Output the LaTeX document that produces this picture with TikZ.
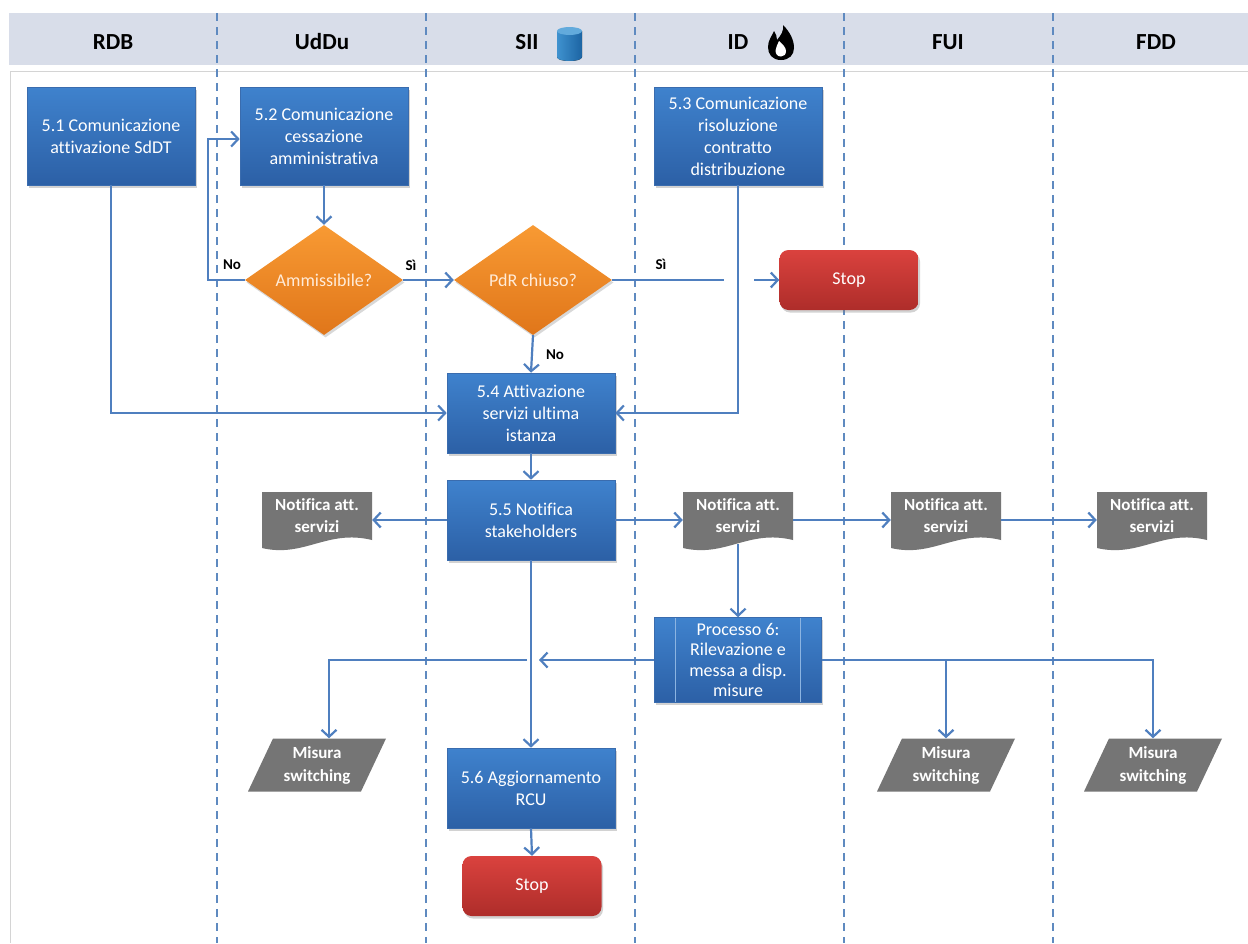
\documentclass[tikz,border=0pt]{standalone}
\usepackage{fontspec}
\setmainfont{Carlito}[Ligatures={NoCommon}]
\usetikzlibrary{arrows.meta,shapes.geometric,shadows,calc}
\definecolor{hdrfill}{HTML}{D8DDE9}
\definecolor{bodyline}{HTML}{D4D4D4}
\definecolor{lanecol}{HTML}{5F8AC0}
\definecolor{linecol}{HTML}{4F7FBF}
\definecolor{blueT}{HTML}{3F82CD}
\definecolor{blueB}{HTML}{2C60A6}
\definecolor{blueE}{HTML}{3A6CAE}
\definecolor{orT}{HTML}{F89A33}
\definecolor{orB}{HTML}{E0761A}
\definecolor{redT}{HTML}{DA423E}
\definecolor{redB}{HTML}{AE2D2A}
\definecolor{docgray}{HTML}{757575}
\definecolor{cylL}{HTML}{3F92CF}
\definecolor{cylR}{HTML}{1C64A3}
\definecolor{cylTop}{HTML}{62AADC}
\definecolor{ortext}{HTML}{FFEBD8}
\begin{document}
\begin{tikzpicture}[x=1pt,y=-1pt,
  lane/.style={lanecol, line width=2.7pt, dash pattern=on 8pt off 6pt},
  hdrtxt/.style={font=\fontsize{23}{26}\selectfont\bfseries, text=black, inner sep=0},
  bluebox/.style={rectangle, top color=blueT, bottom color=blueB, draw=blueE, line width=0.6pt,
     text=white, align=center, font=\fontsize{18}{22}\selectfont, inner sep=2pt,
     minimum width=168pt, drop shadow={shadow xshift=1.5pt, shadow yshift=-2.5pt, opacity=.35}},
  decision/.style={diamond, top color=orT, bottom color=orB, draw=none, text=ortext,
     font=\fontsize{18}{22}\selectfont, inner sep=0pt, aspect=1.45,
     minimum width=158pt, minimum height=110pt,
     drop shadow={shadow xshift=1.5pt, shadow yshift=-2.5pt, opacity=.3}},
  stopbox/.style={rectangle, rounded corners=9pt, top color=redT, bottom color=redB, draw=none,
     text=white, font=\fontsize{18}{22}\selectfont, minimum width=139pt, minimum height=60pt,
     drop shadow={shadow xshift=1.5pt, shadow yshift=-2.5pt, opacity=.35}},
  docbox/.style={rectangle, minimum width=110pt, minimum height=60pt, inner sep=0pt,
     text=white, align=center, font=\fontsize{17}{22}\selectfont\bfseries, text depth=8pt,
     path picture={\fill[docgray] ([yshift=-2pt]path picture bounding box.north west) -- ([yshift=-2pt]path picture bounding box.north east)
       -- ([yshift=10pt]path picture bounding box.south east)
       .. controls ([xshift=-45pt,yshift=21pt]path picture bounding box.south east)
       and ([xshift=42pt,yshift=-8pt]path picture bounding box.south west)
       .. ([yshift=2pt]path picture bounding box.south west) -- cycle;}},
  databox/.style={rectangle, minimum width=138pt, minimum height=53pt, inner sep=0pt,
     text=white, align=center, font=\fontsize{17}{23}\selectfont\bfseries,
     path picture={\fill[docgray] ([xshift=25pt]path picture bounding box.north west) -- (path picture bounding box.north east)
       -- ([xshift=-25pt]path picture bounding box.south east) -- (path picture bounding box.south west) -- cycle;}},
  arr/.style={linecol, line width=2.2pt, -{Straight Barb[length=7pt,width=15pt,line width=2.2pt]}},
  plain/.style={linecol, line width=2.2pt},
  lbl/.style={font=\fontsize{15}{18}\selectfont\bfseries, text=black, inner sep=0pt}
]
\useasboundingbox (0,0) rectangle (1248,943);
\fill[white] (0,0) rectangle (1248,943);
% header and body frame
\fill[hdrfill] (9,13) rectangle (1248,65);
\draw[bodyline, line width=1pt] (10,943) -- (10,71) -- (1248,71);
\foreach \lx in {217,426,635,844,1053} \draw[lane] (\lx,13) -- (\lx,943);

% header labels
\node[hdrtxt] (hRDB) at (113,42) {RDB};
\node[hdrtxt] (hUdDu) at (322,42) {UdDu};
\node[hdrtxt] (hSII) at (527,42) {SII};
\node[hdrtxt] (hID) at (738,42) {ID};
\node[hdrtxt] (hFUI) at (948,42) {FUI};
\node[hdrtxt] (hFDD) at (1156,42) {FDD};
% database icon
\fill[left color=cylL, right color=cylR] (557,31) -- (557,57) .. controls (557,62.3) and (582,62.3) .. (582,57) -- (582,31) -- cycle;
\fill[cylTop] (569.5,31) ellipse [x radius=12.5pt, y radius=4pt];
% flame icon
\fill[black] (781,60) .. controls (772,60) and (768,54) .. (768,47) .. controls (768,40) and (772,36) .. (774,31)
  .. controls (776,34) and (777,37) .. (777,40) .. controls (781,35) and (784,31) .. (783,25)
  .. controls (790,32) and (794,40) .. (794,48) .. controls (794,55) and (789,60) .. (781,60) -- cycle;
\fill[white] (781,56.5) .. controls (777.5,56.5) and (775.5,54) .. (775.5,50.5) .. controls (775.5,47) and (778,44.5) .. (779,41)
  .. controls (782,44) and (786,47) .. (786,51) .. controls (786,54.5) and (784,56.5) .. (781,56.5) -- cycle;

% nodes
\node[bluebox, minimum height=98pt] (n51) at (111,136) {5.1 Comunicazione\\attivazione SdDT};
\node[bluebox, minimum height=98pt] (n52) at (324,136) {5.2 Comunicazione\\cessazione\\amministrativa};
\node[bluebox, minimum height=98pt] (n53) at (738,136) {5.3 Comunicazione\\risoluzione\\contratto\\distribuzione};
\node[decision] (amm) at (324,280) {Ammissibile?};
\node[decision] (pdr) at (533,280) {PdR chiuso?};
\node[stopbox] (stop1) at (849,280) {Stop};
\node[bluebox, minimum height=80pt] (n54) at (531,413) {5.4 Attivazione\\servizi ultima\\istanza};
\node[bluebox, minimum height=80pt] (n55) at (531,520) {5.5 Notifica\\stakeholders};
\node[docbox] (docA) at (317,520) {Notifica att.\\servizi};
\node[docbox] (docB) at (738,520) {Notifica att.\\servizi};
\node[docbox] (docC) at (946,520) {Notifica att.\\servizi};
\node[docbox] (docD) at (1152,520) {Notifica att.\\servizi};
\node[bluebox, minimum width=167pt, minimum height=85pt, font=\fontsize{18}{20.5}\selectfont,
  path picture={\draw[blueT!60!white, line width=0.6pt]
     ([xshift=21pt]path picture bounding box.north west) -- ([xshift=21pt]path picture bounding box.south west)
     ([xshift=-21pt]path picture bounding box.north east) -- ([xshift=-21pt]path picture bounding box.south east);}]
  (p6) at (738,660) {Processo 6:\\Rilevazione e\\messa a disp.\\misure};
\node[databox] (misA) at (317,765) {Misura\\switching};
\node[databox] (misB) at (946,765) {Misura\\switching};
\node[databox] (misC) at (1153,765) {Misura\\switching};
\node[bluebox, minimum height=80pt] (n56) at (531,788) {5.6 Aggiornamento\\RCU};
\node[stopbox] (stop2) at (532,886) {Stop};

% helper coordinates
\coordinate (nobend) at (208,280);
\coordinate (jumpA) at (724,280);
\coordinate (jumpB) at (754,280);
\coordinate (jumpC) at (539,660);
\coordinate (jumpD) at (527,660);

% connectors
\draw[arr] (n51.south) |- (n54.west);
\draw[arr] (n52.south) -- (amm.north);
\draw[arr] (amm.west) -- (nobend) |- ([yshift=-3pt]n52.west);
\draw[arr] (amm.east) -- (pdr.west);
\draw[plain] (pdr.east) -- (jumpA);
\draw[arr] (jumpB) -- (stop1.west);
\draw[arr] (pdr.south) -- (n54.north);
\draw[arr] (n53.south) |- (n54.east);
\draw[arr] (n54.south) -- (n55.north);
\draw[arr] (n55.west) -- (docA.east);
\draw[arr] (n55.east) -- (docB.west);
\draw[arr] (docB.east) -- (docC.west);
\draw[arr] (docC.east) -- (docD.west);
\draw[arr] ([yshift=6pt]docB.south) -- (p6.north);
\draw[arr] (n55.south) -- (n56.north);
\draw[arr] (p6.west) -- (jumpC);
\draw[arr] (jumpD) -| ([xshift=12pt]misA.north);
\draw[arr] (p6.east) -| (misC.north);
\draw[arr] (misB.north |- p6.east) -- (misB.north);
\draw[arr] (n56.south) -- (stop2.north);

% labels
\node[lbl] (lNo1) at (232,265) {No};
\node[lbl] (lSi1) at (411,265) {Sì};
\node[lbl] (lSi2) at (661,264) {Sì};
\node[lbl] (lNo2) at (555,355) {No};
\end{tikzpicture}
\end{document}
